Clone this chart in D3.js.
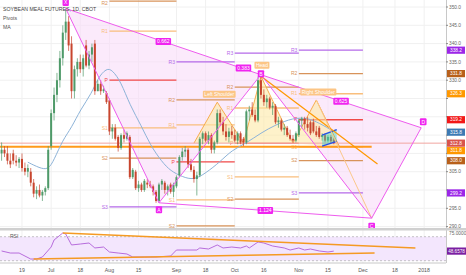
<!DOCTYPE html>
<html>
<head>
<meta charset="utf-8">
<script src="https://cdn.jsdelivr.net/npm/d3@7"></script>
<style>
body{margin:0;background:#fff;}
text{font-family:"Liberation Sans",Arial,sans-serif;}
</style>
</head>
<body>
<svg id="chart" width="466" height="275"></svg>
<script>
// daily bars from 2017-06-08, [open, high, low, close]
var candles = [
 [310,313,308,311],[311,312,309,310],[310,312,307,308],[308,310,306,307],[310,311,307,308],
 [308,309.5,306.5,307.5],[307.5,309,306,308.5],[308.5,310,305,306],[306,307.5,304,305],[305,307,303.5,306],
 [305,306,301,302],[302,303,298,299],[299,301,297.5,300],[300,301.5,298,298.5],[298.5,300,297,299.5],
 [299.5,301,298.5,300.5],[300.5,312,300,311],[312,322,311,321],[321,328,319,326],[326,332,324,330],
 [330,338,328,336],[336,345,334,343],[343,349.5,341,346],[346,347.5,338,339.5],[340,342,325,327],
 [327,334,325,333],[333,336,331,335],[335,337,332,333],[333,337,331,336],[339.5,341,333.5,334],
 [334,338,333,337],[337,340,335,339],[340,341,326,327],[327,330,327,329],[329,330,326,327],
 [327,328.5,326.5,327.5],[326.5,327,323.5,324],[324.5,325,315,316],[316,318,314,317],[317,318,313.5,314],
 [314.5,315,310.5,311.5],[311.5,315.5,311,315],[315,316.5,313,314],[314,316,313.5,315.5],[314.5,315,303,303.5],
 [303.5,306,303,305.5],[305,305.5,300,300.5],[300.5,302.5,299.5,301.5],[301.5,302,299.5,300],[300,303,299.5,302.5],
 [302,303,300.5,301.5],[301.5,302.5,300.5,301],[301,301.5,298.5,299.5],[299.5,300,296.5,297],[297,302,296.5,301.5],
 [301.5,303,300,302.5],[302,302.5,299,300],[300,301.5,298.5,301],[301.5,302,299,299.5],[299.5,302,298,301.5],
 [301,304,300.5,303.5],[304,309.5,303.5,309],[309,311.5,308,310.5],[310.5,312,309,311],[311,311.5,306,307],
 [307,308.5,305,305.5],[305.5,306.5,302,303],[303,305,298.5,304],[304,314.5,303.5,314],[314,316,312.5,315.5],
 [315.5,316,313,313.5],[313.5,316,312.5,315],[315,315.5,310,311],[311,313.5,310,313],[313,322,312.5,321],
 [321,322,317.5,318.5],[318.5,320,315,316],[316,318,313.5,314.5],[314.5,317,313,316],[316,317.5,314,315],
 [315,316.5,313,313.5],[313.5,316,312.5,315.5],[315.5,316,312.5,313],[314,314.5,312,313],[313,322,312.5,321.5],
 [321.5,323,319,322],[322,324,320,320.5],[320.5,322,318.5,319],[319,331,318.5,330],[330,331,325,326],
 [326,327.5,323,324],[324,326,322.5,325],[325,325.5,322,322.5],[322.5,324,320.5,323],[323,323.5,318,318.5],
 [318.5,320,317,319],[319,319.5,316,316.5],[316.5,318,315,317],[317,317.5,314.5,315],[315,316.5,313.5,314],
 [314,315,313,313.5],[313.5,316,313,315.5],[315,319.5,314.5,319],[319,320,317,319.5],[319.5,320,316.5,318],
 [318,320,316,317],[318.5,319,315,315.5],[318.5,319.5,315.5,316],[316,317.5,314.5,315],[317,317.5,314,314.5],
 [314.5,315.5,313.5,315],[315,315.5,313,313.5],[313.5,315,313,314.5],[314.5,315,312.8,313.3],[313.8,314.3,312.5,312.8]
];
var startDate = "2017-06-08";
var lastBarDate = "2017-11-17";
var holidays = ["2017-07-04","2017-09-04"];

// moving average, read at a few bars
var maIdx = [9,13,16,18,21,24,27,31,33,36,38,41,44,48,51,55,58,62,66,70,75,79,84,89,94,100,105,109,114];
var maVal = [307.6,306.0,305.5,308.2,313.7,317.0,321.9,326.5,330.6,333.3,332.8,329.5,323.2,317.5,312.3,307.7,305.2,303.6,302.7,304.6,307.7,310.9,312.8,315.6,317.8,319.7,319.7,318.3,316.0];

// RSI
var rsiIdx = [0,3,6,10,12,14,17,18,21,22,24,27,30,32,35,37,40,43,45,49,53,58,60,64,67,68,71,74,76,79,82,84,85,88,90,93,97,99,102,104,106,109,112,114];
var rsiVal = [46.2,42.8,42.8,32.8,32.8,36.2,52.8,64.5,76.2,74.5,56.2,57.8,59.5,51.2,52.8,44.5,42.8,41.2,36.2,36.2,36.2,37.8,47.8,47.8,47.8,51.2,49.5,56.2,51.2,52.8,51.2,54.5,51.2,61.2,59.5,54.5,51.2,47.8,51.2,47.8,49.5,46.2,44.5,46.0];
var rsiTop = [[21,76.2],[142,51.2]];
var rsiBottom = [[11,32.8],[128,42.8]];

var tickDates = ["2017-06-19","2017-07-03","2017-07-18","2017-08-01","2017-08-15","2017-09-01","2017-09-18","2017-10-02","2017-10-16","2017-11-01","2017-11-15","2017-12-01","2017-12-18","2018-01-01"];
var tickLabels = ["19","Jul","18","Aug","15","Sep","18","Oct","16","Nov","15","Dec","18","2018"];
var priceTicks = [290,295,300,305,310,315,320,325,330,335,340,345,350];

// monthly pivots
var pivotNames = ["R3","R2","R1","P","S1","S2","S3"];
var pivotStarts = [37,60,80,102];
var pivotEnds = [60,80,102,124];
var pivotAug = [null,351.6,343.4,330.0,317.0,308.7,295.4];
var pivotSep = [335.0,324.6,317.8,307.7,297.3,290.2,null];
var pivotOct = [337.4,328.1,322.4,312.8,303.6,297.5,null];
var pivotNov = [338.2,331.8,326.3,319.2,311.8,308.0,299.2];

// XABCD pattern
var xabcdNames = ["X","A","B","C","D"];
var xabcdIdx = [22,54,89,127,144];
var xabcdPrice = [349.6,296.5,331.5,292.3,317.0];
var ratioLabels = ["0.662","0.383","1.124","0.625"];

// head and shoulders
var hsIdx = [66,74,83,89,100,108,116];
var hsPrice = [312.8,324.0,312.8,331.1,312.8,324.6,311.8];
var hsLabels = ["Left Shoulder","Head","Right Shoulder"];

var neckPrice = 311.8;
var headLine = [[89,331.1],[129,307.1]];
var rsLine = [[108,324.6],[127,292.3]];
var channelTop = [[110,315.0],[115,316.5]];
var channelBottom = [[110,312.0],[115,313.3]];

var axisBoxVals = [338.2,331.8,326.3,319.2,315.8,312.8,311.8,308.0,299.2];
var axisBoxColors = ["#9c27e8","#b8601a","#ff9800","#f21818","#3d7ab3","#d9544c","#ff9800","#b8601a","#9c27e8"];
var rsiLast = 48.6578;

// ---- trading day calendar
var days = [];
var parse = d3.utcParse("%Y-%m-%d"), fmt = d3.utcFormat("%Y-%m-%d");
d3.utcDay.range(parse(startDate), parse("2018-01-20")).forEach(function(d){
	var wd = d.getUTCDay(), s = fmt(d);
	if(wd===0||wd===6) return;
	if(s<=lastBarDate && holidays.indexOf(s)>=0) return;
	days.push(s);
});

var W = 466, H = 275, plotR = 446, priceBottom = 228;
var svg = d3.select("#chart");
var x = d3.scaleLinear().domain([0,1]).range([1.6,4.514]);
var y = d3.scaleLinear().domain([290,350]).range([226.6,7]);
var ry = d3.scaleLinear().domain([30,70]).range([260.7,236.7]);

svg.append("defs").append("clipPath").attr("id","pane")
	.append("rect").attr("x",0).attr("y",0).attr("width",plotR).attr("height",priceBottom);

// grid
var grid = svg.append("g");
tickDates.forEach(function(d){
	var xi = x(days.indexOf(d));
	grid.append("line").attr("x1",xi).attr("x2",xi).attr("y1",0).attr("y2",263)
		.attr("stroke","#f0f0f0").attr("stroke-width",1);
});
priceTicks.forEach(function(p){
	grid.append("line").attr("x1",0).attr("x2",plotR).attr("y1",y(p)).attr("y2",y(p))
		.attr("stroke","#f0f0f0").attr("stroke-width",1);
});

var pane = svg.append("g").attr("clip-path","url(#pane)");
var line = d3.line().x(function(d){return x(d[0]);}).y(function(d){return y(d[1]);});

// XABCD fills
var P = xabcdIdx.map(function(d,i){return [d,xabcdPrice[i]];});
pane.append("path").attr("d",line([P[0],P[1],P[2]])+"Z").attr("fill","#f9dcf8").attr("fill-opacity",0.6);
pane.append("path").attr("d",line([P[2],P[3],P[4]])+"Z").attr("fill","#f9dcf8").attr("fill-opacity",0.6);

// pivots
var pivColors = ["#b56ae9","#d8935a","#f9be7c","#f04848","#f9be7c","#d8935a","#b56ae9"];
[pivotAug,pivotSep,pivotOct,pivotNov].forEach(function(vals,k){
	vals.forEach(function(v,j){
		if(v===null) return;
		pane.append("line").attr("x1",x(pivotStarts[k])).attr("x2",x(pivotEnds[k]))
			.attr("y1",y(v)).attr("y2",y(v))
			.attr("stroke",pivColors[j]).attr("stroke-width",1.3);
		pane.append("text").attr("x",x(pivotStarts[k])-1.5).attr("y",Math.max(y(v),3)).attr("dy","0.35em")
			.attr("text-anchor","end").attr("font-size",5).attr("fill",pivColors[j])
			.text(pivotNames[j]);
	});
});

// head and shoulders
var hs = hsIdx.map(function(d,i){return [d,hsPrice[i]];});
[[0,1,2],[2,3,4],[4,5,6]].forEach(function(t){
	pane.append("path").attr("d",line(t.map(function(k){return hs[k];}))+"Z")
		.attr("fill","#fdeaa6").attr("fill-opacity",0.6).attr("stroke","none");
});
pane.append("path").attr("d",line(hs)).attr("fill","none").attr("stroke","#f5a640").attr("stroke-width",0.9);

// horizontal neckline and last price line
pane.append("line").attr("x1",0).attr("x2",x(127)).attr("y1",y(neckPrice)).attr("y2",y(neckPrice))
	.attr("stroke","#ff9a1a").attr("stroke-width",2);
var lastC = candles[candles.length-1][3];
pane.append("line").attr("x1",0).attr("x2",plotR).attr("y1",y(lastC)).attr("y2",y(lastC))
	.attr("stroke","#f2a6a0").attr("stroke-width",1);

// MA
pane.append("path").datum(maIdx.map(function(d,i){return [d,maVal[i]];}))
	.attr("d",d3.line().x(function(d){return x(d[0]);}).y(function(d){return y(d[1]);}).curve(d3.curveBasis))
	.attr("fill","none").attr("stroke","#8db3d8").attr("stroke-width",1);

// candles
var cg = pane.append("g");
candles.forEach(function(c,i){
	var col = c[3]>=c[0] ? "#4f9a69" : "#c8452e";
	cg.append("line").attr("x1",x(i)).attr("x2",x(i)).attr("y1",y(c[1])).attr("y2",y(c[2]))
		.attr("stroke",col).attr("stroke-width",0.7);
	cg.append("rect").attr("x",x(i)-1).attr("width",2)
		.attr("y",y(Math.max(c[0],c[3]))).attr("height",Math.max(0.8,Math.abs(y(c[0])-y(c[3]))))
		.attr("fill",col);
});

// channel
pane.append("path").attr("d",line([channelTop[0],channelTop[1],channelBottom[1],channelBottom[0]])+"Z")
	.attr("fill","#3fd6c0").attr("fill-opacity",0.45);
pane.append("path").attr("d",line(channelTop)).attr("stroke","#2450e8").attr("stroke-width",1.4);
pane.append("path").attr("d",line(channelBottom)).attr("stroke","#2450e8").attr("stroke-width",1.4);

// orange trend lines
pane.append("path").attr("d",line(headLine)).attr("stroke","#ff9800").attr("stroke-width",1.2);
pane.append("path").attr("d",line(rsLine)).attr("stroke","#fbc88a").attr("stroke-width",1);

// XABCD lines
var mg = "#ee5cee";
pane.append("path").attr("d",line(P)).attr("fill","none").attr("stroke",mg).attr("stroke-width",1);
[[0,2],[1,3],[2,4]].forEach(function(s){
	pane.append("path").attr("d",line([P[s[0]],P[s[1]]])).attr("stroke",mg).attr("stroke-width",1);
});

function box(g,cx,cy,txt,fill,fs,color){
	var t = g.append("text").attr("x",cx).attr("y",cy).attr("dy","0.36em").attr("text-anchor","middle")
		.attr("font-size",fs).attr("fill",color||"#fff").text(txt);
	var w = t.node().getComputedTextLength()+3;
	g.insert("rect","text:last-child").attr("x",cx-w/2).attr("y",cy-fs*0.7).attr("width",w).attr("height",fs*1.4)
		.attr("rx",1).attr("fill",fill);
}
var lab = svg.append("g");
// ratio labels
var mids = [[0,2,0.5],[0,4,0.5],[1,3,0.5],[2,4,0.5]];
mids.forEach(function(m,i){
	var a = P[m[0]], b = P[m[1]];
	var cx = x(a[0]+(b[0]-a[0])*m[2]), cy = y(a[1]+(b[1]-a[1])*m[2]);
	box(lab.append("g"),cx,cy,ratioLabels[i],"#f024f0",5);
});
// point labels
var offs = [-6,7,-1,8,-6];
P.forEach(function(p,i){
	box(lab.append("g"),x(p[0])+(i===4?2:0),y(p[1])+offs[i],xabcdNames[i],"#f024f0",5);
});
// H&S labels
[1,3,5].forEach(function(k,i){
	box(lab.append("g"),x(hs[k][0])+(i===1?1:2),y(hs[k][1])-(i===1?11:8),hsLabels[i],"#fcc585",5);
});

// legend
svg.append("text").attr("x",3).attr("y",11).attr("font-size",5.2).attr("fill","#444").text("SOYBEAN MEAL FUTURES, 1D, CBOT");
svg.append("text").attr("x",3).attr("y",20).attr("font-size",5.2).attr("fill","#555").text("Pivots");
svg.append("text").attr("x",3).attr("y",29).attr("font-size",5.2).attr("fill","#555").text("MA");

// price axis boxes, pushed apart when they collide
var prevY = -10, boxYs = [];
var boxes = axisBoxVals.map(function(v,i){return {v:v,c:axisBoxColors[i]};})
	.sort(function(a,b){return b.v-a.v;});
boxes.forEach(function(b){
	b.yy = Math.max(y(b.v), prevY+7.5);
	prevY = b.yy;
	boxYs.push(b.yy);
});
svg.append("line").attr("x1",plotR+0.5).attr("x2",plotR+0.5).attr("y1",0).attr("y2",263).attr("stroke","#c8c8c8");
priceTicks.forEach(function(p){
	svg.append("line").attr("x1",plotR).attr("x2",plotR+2).attr("y1",y(p)).attr("y2",y(p)).attr("stroke","#888");
	var hidden = boxYs.some(function(b){return Math.abs(b-y(p))<6.5;});
	if(hidden) return;
	svg.append("text").attr("x",plotR+3).attr("y",y(p)).attr("dy","0.35em").attr("font-size",4.8)
		.attr("fill","#666").text(p.toFixed(1));
});
boxes.forEach(function(b){
	svg.append("rect").attr("x",plotR+1).attr("y",b.yy-3.6).attr("width",18).attr("height",7.2).attr("fill",b.c);
	svg.append("text").attr("x",plotR+10).attr("y",b.yy).attr("dy","0.35em").attr("text-anchor","middle")
		.attr("font-size",4.8).attr("fill","#fff").text(b.v.toFixed(1));
});

// pane separators
svg.append("rect").attr("x",0).attr("y",priceBottom).attr("width",W).attr("height",2.5).attr("fill","#d0d0d0");
svg.append("line").attr("x1",0).attr("x2",plotR).attr("y1",263).attr("y2",263).attr("stroke","#c8c8c8");

// RSI pane
svg.append("rect").attr("x",0).attr("y",ry(70)).attr("width",plotR).attr("height",ry(30)-ry(70)).attr("fill","#f3e6fd");
[70,30].forEach(function(v){
	svg.append("line").attr("x1",0).attr("x2",plotR).attr("y1",ry(v)).attr("y2",ry(v))
		.attr("stroke","#a0a0a0").attr("stroke-width",0.6).attr("stroke-dasharray","2,2");
});
var rl = d3.line().x(function(d){return x(d[0]);}).y(function(d){return ry(d[1]);});
svg.append("path").attr("d",rl(rsiIdx.map(function(d,i){return [d,rsiVal[i]];})))
	.attr("fill","none").attr("stroke","#b05fd8").attr("stroke-width",0.9);
svg.append("path").attr("d",rl(rsiTop)).attr("stroke","#f59a23").attr("stroke-width",1.3);
svg.append("path").attr("d",rl(rsiBottom)).attr("stroke","#f59a23").attr("stroke-width",1.3);
svg.append("text").attr("x",10).attr("y",ry(68)).attr("font-size",5).attr("fill","#555").text("RSI");
svg.append("text").attr("x",plotR+3).attr("y",ry(75)).attr("dy","0.35em").attr("font-size",4.8).attr("fill","#666").text("75.0000");
svg.append("rect").attr("x",plotR+1).attr("y",ry(rsiVal[rsiVal.length-1])-3.6).attr("width",19).attr("height",7.2).attr("fill","#7b1fa2");
svg.append("text").attr("x",plotR+10.5).attr("y",ry(rsiVal[rsiVal.length-1])).attr("dy","0.35em").attr("text-anchor","middle")
	.attr("font-size",4.6).attr("fill","#fff").text(rsiLast.toFixed(4));

// time axis
tickDates.forEach(function(d,i){
	svg.append("text").attr("x",x(days.indexOf(d))).attr("y",272).attr("text-anchor","middle")
		.attr("font-size",5.2).attr("fill","#555").text(tickLabels[i]);
});
</script>
</body>
</html>
